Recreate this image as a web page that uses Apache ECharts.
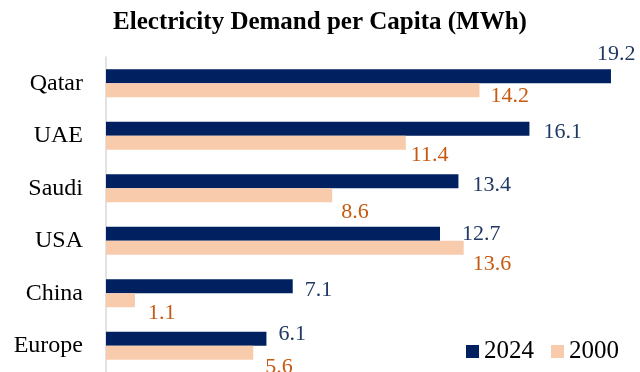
<!DOCTYPE html>
<html>
<head>
<meta charset="utf-8">
<script src="https://cdn.jsdelivr.net/npm/echarts@6/dist/echarts.min.js"></script>
<style>
  html, body { margin: 0; padding: 0; background: #fff; }
  #chart { width: 640px; height: 372px; }
</style>
</head>
<body>
<div id="chart"></div>
<script>
// Electricity demand per capita, MWh
const regions = ['Qatar', 'UAE', 'Saudi', 'USA', 'China', 'Europe'];
const demand2024 = [19.2, 16.1, 13.4, 12.7, 7.1, 6.1];
const demand2000 = [14.2, 11.4, 8.6, 13.6, 1.1, 5.6];
const seriesNames = ['2024', '2000'];

// label nudges [dx, dy] from the bar end, per region
const nudge2024 = [[-14, -22], [14, 3], [14, 4], [22, 0], [12, 4], [12, -5]];
const nudge2000 = [[11, 6], [5, 12], [9, 17], [9, 16], [13, 13], [12, 14]];

const FONT = '"Liberation Serif", "Times New Roman", serif';
const NAVY = '#002060';
const PEACH = '#F8CBAD';

function withLabels(values, nudges) {
  return values.map((v, i) => ({
    value: v,
    label: { offset: nudges[i] }
  }));
}

const chart = echarts.init(document.getElementById('chart'), null, { renderer: 'canvas' });
chart.setOption({
  animation: false,
  backgroundColor: '#fff',
  title: {
    text: 'Electricity Demand per Capita (MWh)',
    left: 'center',
    top: 5,
    textStyle: { fontFamily: FONT, fontWeight: 'bold', fontSize: 25, color: '#000' }
  },
  legend: {
    data: seriesNames,
    left: 466,
    top: 339,
    padding: 0,
    icon: 'rect',
    itemWidth: 13,
    itemHeight: 13,
    itemGap: 17,
    textStyle: { fontFamily: FONT, fontSize: 25, color: '#000' }
  },
  grid: { left: 106, right: 8, top: 57, bottom: -9, containLabel: false },
  xAxis: {
    type: 'value',
    min: 0,
    max: 20,
    show: false,
    splitLine: { show: false }
  },
  yAxis: {
    type: 'category',
    data: regions,
    inverse: true,
    axisLine: { show: true, lineStyle: { color: '#d9d9d9', width: 1.5 } },
    axisTick: { show: false },
    axisLabel: { margin: 23, fontFamily: FONT, fontSize: 24, color: '#000' }
  },
  series: [
    {
      name: seriesNames[0],
      type: 'bar',
      barWidth: 14,
      barGap: '0%',
      itemStyle: { color: NAVY },
      label: {
        show: true, position: 'right', distance: 0,
        fontFamily: FONT, fontSize: 22, color: '#203864',
        formatter: p => p.value.toFixed(1)
      },
      data: withLabels(demand2024, nudge2024)
    },
    {
      name: seriesNames[1],
      type: 'bar',
      barWidth: 14,
      barGap: '0%',
      itemStyle: { color: PEACH },
      label: {
        show: true, position: 'right', distance: 0,
        fontFamily: FONT, fontSize: 22, color: '#C55A11',
        formatter: p => p.value.toFixed(1)
      },
      data: withLabels(demand2000, nudge2000)
    }
  ]
});
</script>
</body>
</html>
